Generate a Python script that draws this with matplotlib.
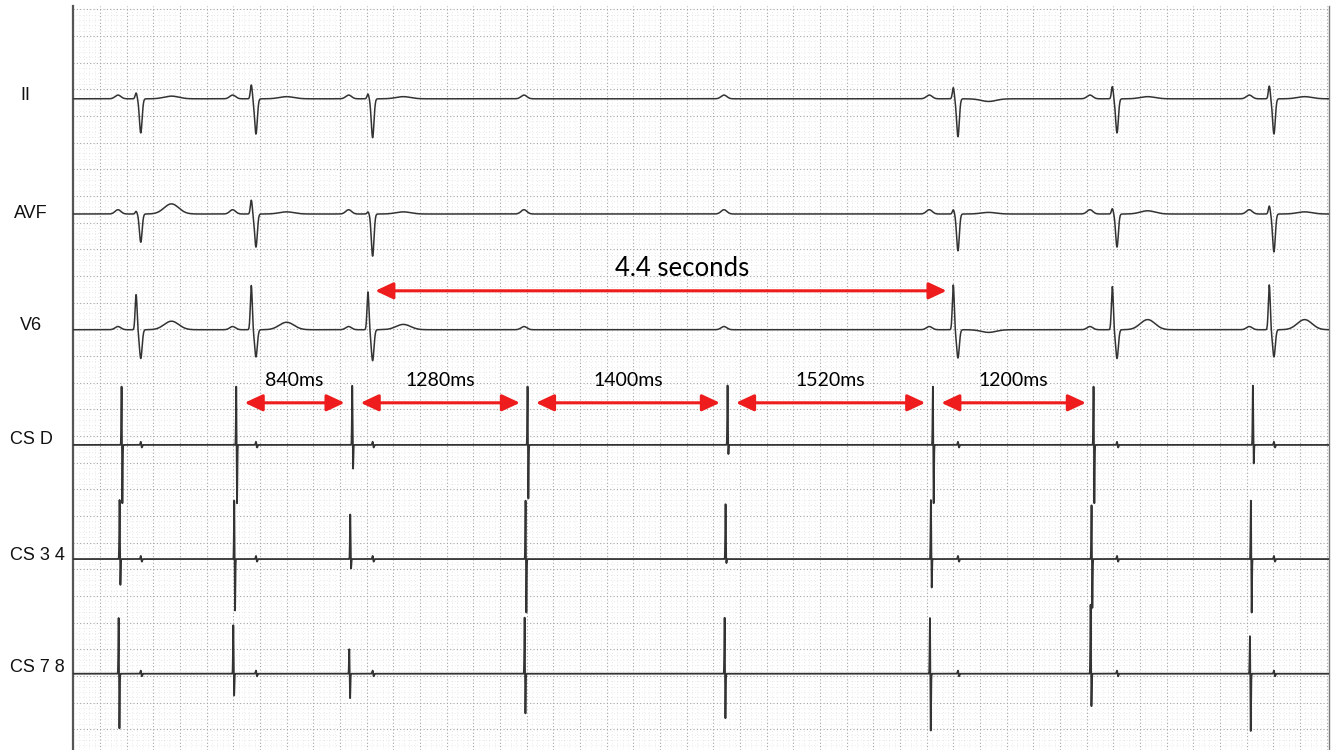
"""
Surface ECG + coronary sinus electrograms with paused AV conduction.
"""

import numpy as np
import matplotlib.pyplot as plt
from matplotlib.ticker import MultipleLocator

# strip at 25 mm/s: x in ms, y in mm of paper
T_END = 9418
Y_LO, Y_HI = -3.9, 135.6

# atrial activation (CS D spike) and conducted ventricular beats, ms
a_times = [365, 1225, 2095, 3410, 4910, 6450, 7655, 8850]
v_times = [506, 1370, 2245, 6635, 7828, 9005]

leads = ['II', 'AVF', 'V6', 'CS D', 'CS 3 4', 'CS 7 8']
baselines = [118.2, 96.6, 74.9, 53.3, 31.9, 10.4]

# surface leads: R and S amplitude per ventricular beat (mm)
r_amp = {
    'II':  [1.1, 2.6, 0.9, 2.1, 2.3, 2.4],
    'AVF': [0.5, 2.6, 0.4, 0.8, 1.0, 1.5],
    'V6':  [6.6, 8.3, 7.1, 8.4, 8.1, 8.4],
}
s_amp = {
    'II':  [6.4, 6.6, 7.3, 7.1, 6.4, 6.6],
    'AVF': [5.3, 6.2, 7.9, 6.9, 6.2, 7.1],
    'V6':  [5.4, 5.1, 5.8, 5.3, 5.4, 5.1],
}
t_amp = {
    'II':  [0.5, 0.4, 0.4, -0.5, 0.4, 0.4],
    'AVF': [1.9, 0.4, 0.4, 0.3, 0.6, 0.4],
    'V6':  [1.6, 1.4, 1.0, -0.5, 1.9, 1.9],
}
p_amp = {'II': 0.7, 'AVF': 0.8, 'V6': 0.6}

# CS channels: spike up / down amplitude per atrial beat (mm), timing offset (ms)
cs_up = {
    'CS D':   [11.2, 11.2, 11.2, 11.2, 11.2, 11.2, 11.2, 11.2],
    'CS 3 4': [11.2, 11.2, 8.4, 11.2, 10.3, 11.2, 10.3, 11.2],
    'CS 7 8': [10.7, 9.2, 4.7, 10.7, 10.7, 10.7, 13.1, 7.3],
}
cs_dn = {
    'CS D':   [11.2, 11.2, 4.7, 10.3, 1.9, 11.2, 11.2, 3.7],
    'CS 3 4': [5.1, 9.9, 1.9, 10.3, 0.9, 5.6, 9.4, 10.3],
    'CS 7 8': [10.5, 4.3, 4.7, 7.7, 8.6, 10.9, 6.4, 10.9],
}
cs_shift = {'CS D': 0, 'CS 3 4': -15, 'CS 7 8': -22}

# measured A-A intervals annotated under V6
interval_labels = ['840ms', '1280ms', '1400ms', '1520ms', '1200ms']
pause_label = '4.4 seconds'

label_y_px = [95, 213, 326, 440, 555, 668]
label_x_px = [20, 14, 20, 10, 10, 10]

t = np.arange(0, T_END, 0.5)


def bump(center, sigma, amp):
    return amp * np.exp(-0.5 * ((t - center) / sigma) ** 2)


def surface_trace(lead):
    y = np.zeros_like(t)
    for a in a_times:
        y += bump(a - 30, 22, p_amp[lead])
    for i, v in enumerate(v_times):
        y += bump(v - 35, 7, r_amp[lead][i])
        y -= bump(v, 10, s_amp[lead][i])
        y += bump(v + 230, 55, t_amp[lead][i])
    return y


def cs_trace(lead):
    y = np.zeros_like(t)
    for i, a in enumerate(a_times):
        a = a + cs_shift[lead]
        y += bump(a - 3, 2.2, cs_up[lead][i])
        y -= bump(a + 3, 2.2, cs_dn[lead][i])
    for v in v_times:
        y += bump(v, 3, 0.6)
        y -= bump(v + 8, 3, 0.5)
    return y


fig = plt.figure(figsize=(13.33, 7.5), dpi=100)
W, H = 1333, 750
ax = fig.add_axes([73.3 / W, 0, (1329 - 73.3) / W, 744 / H])

for lead, base in zip(leads, baselines):
    y = surface_trace(lead) if lead in r_amp else cs_trace(lead)
    ax.plot(t, base + y, color='#333333', lw=1.1 if lead in r_amp else 1.3,
            zorder=3)

ax.set_xlim(0, T_END)
ax.set_ylim(Y_LO, Y_HI)
ax.xaxis.set_major_locator(MultipleLocator(200))
ax.xaxis.set_minor_locator(MultipleLocator(40))
ax.yaxis.set_major_locator(MultipleLocator(5))
ax.yaxis.set_minor_locator(MultipleLocator(1))
ax.grid(which='major', color='#a4a4a4', linestyle=(0, (1, 2)), lw=0.8)
ax.grid(which='minor', color='#d6d6d6', linestyle=(0, (1, 3.5)), lw=0.5)
ax.tick_params(which='both', length=0, labelbottom=False, labelleft=False)
for side in ['top', 'bottom']:
    ax.spines[side].set_visible(False)
ax.spines['left'].set_color('#555555')
ax.spines['left'].set_linewidth(1.6)
ax.spines['right'].set_color('#777777')
ax.spines['right'].set_linewidth(1.0)

red = '#ee1c1c'
arrow = dict(arrowstyle='<|-|>,head_length=0.6,head_width=0.28', color=red,
             lw=2.2, mutation_scale=18, shrinkA=0, shrinkB=0)

# A-A intervals between CS D spikes
y_arr, y_txt = 61.2, 65.3
for i, lab in enumerate(interval_labels):
    a0, a1 = a_times[i + 1], a_times[i + 2]
    ax.annotate('', xy=(a1 - 60, y_arr), xytext=(a0 + 60, y_arr),
                arrowprops=arrow, zorder=5)
    ax.text((a0 + a1) / 2, y_txt, lab, ha='center', va='center',
            fontsize=14, family='Lato', zorder=5)

# ventricular pause
v0, v1 = v_times[2], v_times[3]
ax.annotate('', xy=(v1 - 85, 82.2), xytext=(v0 + 20, 82.2),
            arrowprops=arrow, zorder=5)
ax.text((v0 + v1) / 2 + 130, 86.3, pause_label, ha='center', va='center',
        fontsize=18.5, family='Lato', zorder=5)

for lead, xp, yp in zip(leads, label_x_px, label_y_px):
    fig.text(xp / W, 1 - yp / H, lead, ha='left', va='center',
             fontsize=13, family='Liberation Sans', color='#111111')

fig.savefig('out.png', dpi=100, facecolor='white')
